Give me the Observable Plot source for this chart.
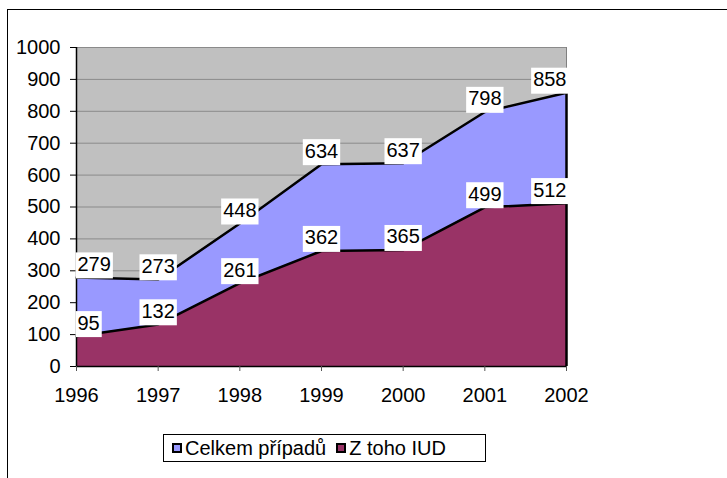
<!DOCTYPE html>
<html>
<head>
<meta charset="utf-8">
<script src="https://cdn.jsdelivr.net/npm/d3@7"></script>
<script src="https://cdn.jsdelivr.net/npm/@observablehq/plot@0.6"></script>
<style>
  html, body { margin: 0; padding: 0; background: #fff; overflow: hidden; }
  #wrap { position: relative; width: 727px; height: 478px; font-family: "Liberation Sans", Arial, sans-serif; }
  #border { position: absolute; left: 7px; top: 9px; width: 900px; height: 700px; border: 1px solid #000; box-sizing: border-box; pointer-events: none; }
  #legend { position: absolute; left: 163px; top: 434px; width: 323px; height: 28px; border: 1px solid #000; box-sizing: border-box; background: #fff; display: flex; align-items: center; font-size: 20px; color: #000; }
  .sw { display: inline-block; width: 10px; height: 10px; border: 2px solid #000; box-sizing: border-box; margin-right: 3px; }
</style>
</head>
<body>
<div id="wrap">
  <div id="chart"></div>
  <div id="legend"></div>
  <div id="border"></div>
</div>
<script>
const years = [1996, 1997, 1998, 1999, 2000, 2001, 2002];
const total = [279, 273, 448, 634, 637, 798, 858];
const iud = [95, 132, 261, 362, 365, 499, 512];
const seriesNames = ["Celkem případů", "Z toho IUD"];
const seriesColors = ["#9999ff", "#993366"];
const yTicks = [0, 100, 200, 300, 400, 500, 600, 700, 800, 900, 1000];

const data = years.map((y, i) => ({year: y, total: total[i], iud: iud[i]}));
const labels = [];
data.forEach((d, i) => {
  const pos = i === 0 ? "first" : i === data.length - 1 ? "last" : "mid";
  labels.push({year: d.year, value: d.total, pos});
  labels.push({year: d.year, value: d.iud, pos});
});

const lab = (pos, anchor, dx) => Plot.text(labels.filter(l => l.pos === pos), {
  x: "year", y: "value", text: d => String(d.value),
  textAnchor: anchor, dx, dy: -13, lineAnchor: "middle",
  fill: "#000", fontSize: 20, ariaDescription: "datalabel"
});

const chart = Plot.plot({
  width: 727, height: 478,
  marginLeft: 76, marginRight: 161, marginTop: 47, marginBottom: 112,
  style: {fontFamily: "'Liberation Sans', Arial, sans-serif", fontSize: "20px", background: "#fff", color: "#000"},
  x: {domain: [1996, 2002], label: null},
  y: {domain: [0, 1000], label: null},
  marks: [
    Plot.frame({fill: "#c0c0c0", stroke: "#808080"}),
    Plot.gridY(yTicks, {stroke: "#8a8a8a", strokeOpacity: 1}),
    Plot.areaY(data, {x: "year", y: "total", fill: seriesColors[0]}),
    Plot.areaY(data, {x: "year", y: "iud", fill: seriesColors[1]}),
    Plot.lineY(data, {x: "year", y: "total", stroke: "#000", strokeWidth: 2.5}),
    Plot.lineY(data, {x: "year", y: "iud", stroke: "#000", strokeWidth: 2.5}),
    Plot.ruleX([data[data.length - 1]], {x: "year", y1: 0, y2: "total", stroke: "#000", strokeWidth: 2.5}),
    Plot.ruleX([years[0]], {stroke: "#000", strokeWidth: 1.5}),
    Plot.ruleY([0], {stroke: "#000", strokeWidth: 1.5}),
    Plot.axisY(yTicks, {tickSize: 6, tickPadding: 10, fontSize: 20, tickFormat: d => String(d)}),
    Plot.axisX(years, {tickSize: 5, tickPadding: 16, fontSize: 20, stroke: "#555", tickFormat: d => String(d)}),
    lab("first", "start", 1),
    lab("mid", "middle", 0),
    lab("last", "end", 0)
  ]
});
document.getElementById("chart").appendChild(chart);

// white boxes behind data labels
const texts = [];
chart.querySelectorAll("g").forEach(g => {
  if (g.getAttribute("aria-description") === "datalabel") {
    g.querySelectorAll("text").forEach(t => texts.push(t));
  }
});
texts.forEach(t => {
  const b = t.getBBox();
  const r = document.createElementNS("http://www.w3.org/2000/svg", "rect");
  r.setAttribute("x", b.x - 2);
  r.setAttribute("y", b.y - 0.5);
  r.setAttribute("width", b.width + 4);
  r.setAttribute("height", b.height + 4);
  r.setAttribute("fill", "#fff");
  r.setAttribute("stroke", "none");
  const tr = t.getAttribute("transform");
  if (tr) r.setAttribute("transform", tr);
  t.parentNode.insertBefore(r, t);
});

const legend = document.getElementById("legend");
seriesNames.forEach((name, i) => {
  const item = document.createElement("span");
  item.style.display = "inline-flex";
  item.style.alignItems = "center";
  item.style.marginLeft = i === 0 ? "8px" : "10px";
  const sw = document.createElement("span");
  sw.className = "sw";
  sw.style.background = seriesColors[i];
  item.appendChild(sw);
  item.appendChild(document.createTextNode(name));
  legend.appendChild(item);
});
</script>
</body>
</html>
